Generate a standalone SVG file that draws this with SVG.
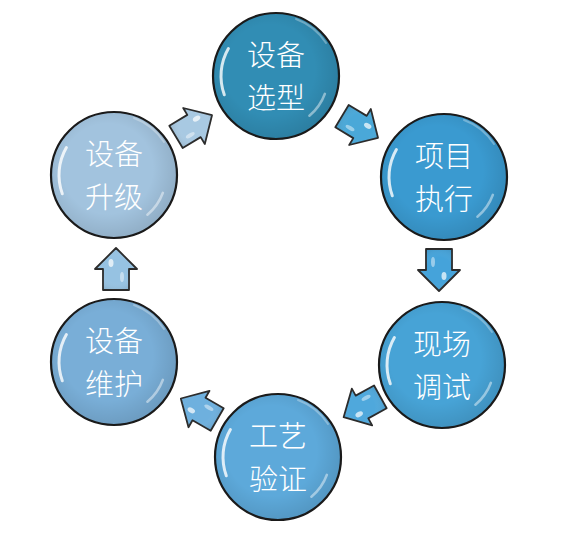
<svg xmlns="http://www.w3.org/2000/svg" xmlns:xlink="http://www.w3.org/1999/xlink" width="569" height="559" viewBox="0 0 569 559">
<style>
.rim{fill:none;stroke:#1a1a1a;stroke-width:2.2}
.lbl{font-family:"Noto Sans CJK SC","Noto Sans",sans-serif;font-size:29px;font-weight:300;fill:#ffffff;text-anchor:middle}
.arr{stroke:#2a2a2a;stroke-width:1.8;stroke-linejoin:round}
</style>
<defs>
<radialGradient id="shade" cx="0.45" cy="0.45" r="0.55">
<stop offset="0.65" stop-color="#000" stop-opacity="0"/>
<stop offset="1" stop-color="#000" stop-opacity="0.1"/>
</radialGradient>
<radialGradient id="ashade" cx="0.5" cy="0.5" r="0.6">
<stop offset="0.5" stop-color="#fff" stop-opacity="0"/>
<stop offset="1" stop-color="#000" stop-opacity="0.12"/>
</radialGradient>
<g id="gloss">
<circle r="63" fill="url(#shade)"/>
<path d="M -47.6,-27.5 A 55 55 0 0 0 -51.7,18.8" fill="none" stroke="#fff" stroke-width="3" stroke-linecap="round" opacity="0.8"/>
<path d="M 48.9,17.8 A 52 52 0 0 1 33.4,39.8" fill="none" stroke="#fff" stroke-width="2.5" stroke-linecap="round" opacity="0.45"/>
<path d="M 20,-57 A 60 60 0 0 1 50,-33" fill="none" stroke="#fff" stroke-width="2" stroke-linecap="round" opacity="0.3"/>
</g>
<path id="arw" d="M -21,-13 L 0,-13 L 0,-21 L 21,0 L 0,21 L 0,13 L -21,13 Z"/>
<g id="ahl">
<ellipse cx="6" cy="-5" rx="4" ry="2.5" fill="#fff" opacity="0.7"/>
<ellipse cx="-8" cy="6" rx="5" ry="2" fill="#fff" opacity="0.45"/>
</g>
</defs>
<rect width="569" height="559" fill="#ffffff"/>
<g id="connectors">
<g transform="translate(194,126) rotate(-31)"><use xlink:href="#arw" fill="#a8c9e2" class="arr"/><use xlink:href="#arw" fill="url(#ashade)"/><use xlink:href="#ahl"/></g>
<g transform="translate(360,127) rotate(31)"><use xlink:href="#arw" fill="#4aa8d8" class="arr"/><use xlink:href="#arw" fill="url(#ashade)"/><use xlink:href="#ahl"/></g>
<g transform="translate(439,270) rotate(90)"><use xlink:href="#arw" fill="#45a3da" class="arr"/><use xlink:href="#arw" fill="url(#ashade)"/><use xlink:href="#ahl"/></g>
<g transform="translate(362,407) rotate(151)"><use xlink:href="#arw" fill="#4fa8dc" class="arr"/><use xlink:href="#arw" fill="url(#ashade)"/><use xlink:href="#ahl"/></g>
<g transform="translate(199,409) rotate(210)"><use xlink:href="#arw" fill="#6eb0de" class="arr"/><use xlink:href="#arw" fill="url(#ashade)"/><use xlink:href="#ahl"/></g>
<g transform="translate(116,269) rotate(-90)"><use xlink:href="#arw" fill="#96c2e2" class="arr"/><use xlink:href="#arw" fill="url(#ashade)"/><use xlink:href="#ahl"/></g>
</g>
<g id="node-xuanxing" transform="translate(276,76)">
<circle r="63" fill="#318db4"/><use xlink:href="#gloss"/><circle r="63" class="rim"/>
<text class="lbl" y="-10">设备</text><text class="lbl" y="32.5">选型</text>
</g>
<g id="node-zhixing" transform="translate(444,177)">
<circle r="63" fill="#3a9ad0"/><use xlink:href="#gloss"/><circle r="63" class="rim"/>
<text class="lbl" y="-10">项目</text><text class="lbl" y="32.5">执行</text>
</g>
<g id="node-tiaoshi" transform="translate(442,365)">
<circle r="63" fill="#47a3d6"/><use xlink:href="#gloss"/><circle r="63" class="rim"/>
<text class="lbl" y="-10">现场</text><text class="lbl" y="32.5">调试</text>
</g>
<g id="node-yanzheng" transform="translate(278,457)">
<circle r="63" fill="#5da9da"/><use xlink:href="#gloss"/><circle r="63" class="rim"/>
<text class="lbl" y="-10">工艺</text><text class="lbl" y="32.5">验证</text>
</g>
<g id="node-weihu" transform="translate(114,362)">
<circle r="63" fill="#79aed7"/><use xlink:href="#gloss"/><circle r="63" class="rim"/>
<text class="lbl" y="-10">设备</text><text class="lbl" y="32.5">维护</text>
</g>
<g id="node-shengji" transform="translate(114,175)">
<circle r="63" fill="#a2c3de"/><use xlink:href="#gloss"/><circle r="63" class="rim"/>
<text class="lbl" y="-10">设备</text><text class="lbl" y="32.5">升级</text>
</g>
</svg>
